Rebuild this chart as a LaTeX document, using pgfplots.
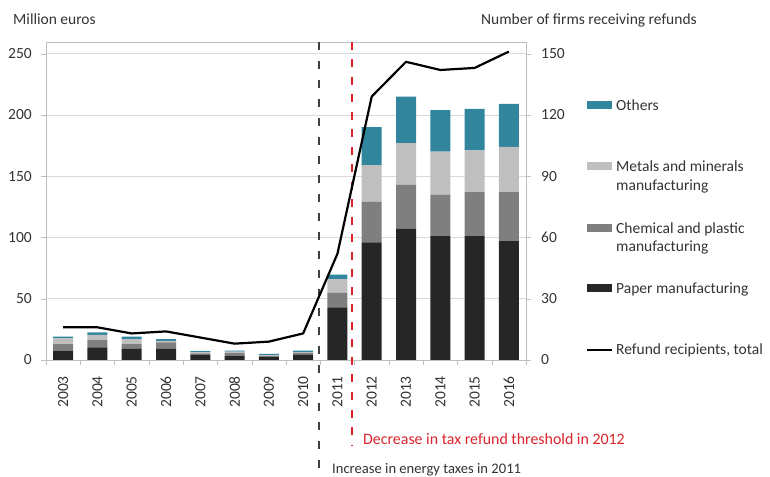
\documentclass[border=0pt]{standalone}
\usepackage{fontspec}
\setmainfont{Carlito}
\usepackage{pgfplots}
\pgfplotsset{compat=1.18}

\definecolor{paper}{HTML}{262626}
\definecolor{chem}{HTML}{7F7F7F}
\definecolor{metal}{HTML}{BFBFBF}
\definecolor{others}{HTML}{31859C}
\definecolor{txt}{HTML}{333333}
\definecolor{refred}{HTML}{D9242B}
\definecolor{refgray}{HTML}{404040}

\begin{document}
\begin{tikzpicture}[font=\fontsize{15.5}{18.6}\selectfont, text=txt]
\useasboundingbox (0pt,0pt) rectangle (770pt,476pt);

% bars, left axis
\begin{axis}[
    at={(46pt,116pt)}, anchor=south west,
    scale only axis, width=480pt, height=318pt,
    xmin=-0.5, xmax=13.5, ymin=0, ymax=259.5,
    ybar stacked, bar width=20pt,
    clip=false,
    axis line style={metal},
    xtick={0,...,13},
    xticklabels={2003,2004,2005,2006,2007,2008,2009,2010,2011,2012,2013,2014,2015,2016},
    xtick pos=bottom,
    xtick style={draw=none},
    xticklabel style={rotate=90, anchor=east, inner sep=0pt},
    xticklabel shift=11pt,
    extra x ticks={-0.5,0.5,...,13.5},
    extra x tick labels={},
    extra x tick style={xtick style={draw=metal}, major tick length=5pt, tick align=outside},
    ytick={0,50,...,250},
    ytick pos=left,
    tick align=outside,
    major tick length=5pt,
    ytick style={draw=metal},
    yticklabel style={anchor=east, inner sep=0pt},
    yticklabel shift=9pt,
    ymajorgrids, grid style={gray!30, line width=0.8pt},
    /pgf/number format/assume math mode=true,
]
\addplot[fill=paper, draw=none] coordinates {
    (0,7.6) (1,10.3) (2,9) (3,9) (4,4.1) (5,3.5) (6,2.4) (7,4.1)
    (8,43) (9,96) (10,107) (11,101) (12,101) (13,97)};
\addplot[fill=chem, draw=none] coordinates {
    (0,5.4) (1,6) (2,4) (3,5.4) (4,1.3) (5,2.2) (6,0.8) (7,1.6)
    (8,12) (9,33) (10,36) (11,34) (12,36) (13,40)};
\addplot[fill=metal, draw=none] coordinates {
    (0,4.6) (1,4.3) (2,4.1) (3,1.3) (4,0.8) (5,1.1) (6,0.8) (7,0.8)
    (8,11) (9,30) (10,34) (11,35) (12,34) (13,37)};
\addplot[fill=others, draw=none] coordinates {
    (0,1.4) (1,1.9) (2,1.9) (3,1.4) (4,1.1) (5,0.8) (6,0.9) (7,1.1)
    (8,3.6) (9,31) (10,38) (11,34) (12,34) (13,35)};

% policy change markers
\draw[refgray, line width=2pt, dash pattern=on 8pt off 11pt]
    (axis cs:7.47,259.5) -- (axis cs:7.47,-96);
\draw[refred, line width=2pt, dash pattern=on 8pt off 9.5pt]
    (axis cs:8.43,259.5) -- (axis cs:8.43,-70);
\end{axis}

% firms, right axis
\begin{axis}[
    at={(46pt,116pt)}, anchor=south west,
    scale only axis, width=480pt, height=318pt,
    xmin=-0.5, xmax=13.5, ymin=0, ymax=155.7,
    axis x line=none,
    axis y line*=right,
    axis line style={metal},
    ytick={0,30,...,150},
    tick align=outside,
    major tick length=5pt,
    ytick style={draw=metal},
    yticklabel style={anchor=west, inner sep=0pt},
    yticklabel shift=10pt,
    /pgf/number format/assume math mode=true,
]
\addplot[black, line width=2.2pt, line join=round] coordinates {
    (0,16) (1,16) (2,13) (3,14) (4,11) (5,8) (6,9) (7,13)
    (8,52) (9,129) (10,146) (11,142) (12,143) (13,151)};
\end{axis}

% axis titles
\node[anchor=base west, inner sep=0pt] at (13pt,451pt) {Million euros};
\node[anchor=base west, inner sep=0pt] at (481pt,451pt) {Number of firms receiving refunds};

% annotations
\node[anchor=base west, inner sep=0pt, text=refred, font=\fontsize{15.9}{19}\selectfont] at (363pt,31pt) {Decrease in tax refund threshold in 2012};
\node[anchor=base west, inner sep=0pt, font=\fontsize{14.6}{17.5}\selectfont] at (332pt,2.7pt) {Increase in energy taxes in 2011};

% legend
\fill[others] (587pt,367pt) rectangle (612pt,375pt);
\node[anchor=base west, inner sep=0pt] at (616pt,365.5pt) {Others};
\fill[metal] (587pt,305.8pt) rectangle (612pt,313.8pt);
\node[anchor=base west, inner sep=0pt] at (616pt,304.3pt) {Metals and minerals};
\node[anchor=base west, inner sep=0pt] at (616pt,285.7pt) {manufacturing};
\fill[chem] (587pt,244.2pt) rectangle (612pt,252.2pt);
\node[anchor=base west, inner sep=0pt] at (616pt,242.7pt) {Chemical and plastic};
\node[anchor=base west, inner sep=0pt] at (616pt,224.1pt) {manufacturing};
\fill[paper] (587pt,184.2pt) rectangle (612pt,192.2pt);
\node[anchor=base west, inner sep=0pt] at (616pt,182.7pt) {Paper manufacturing};
\draw[black, line width=2.2pt] (587pt,126pt) -- (612pt,126pt);
\node[anchor=base west, inner sep=0pt] at (616pt,121pt) {Refund recipients, total};
\end{tikzpicture}
\end{document}
